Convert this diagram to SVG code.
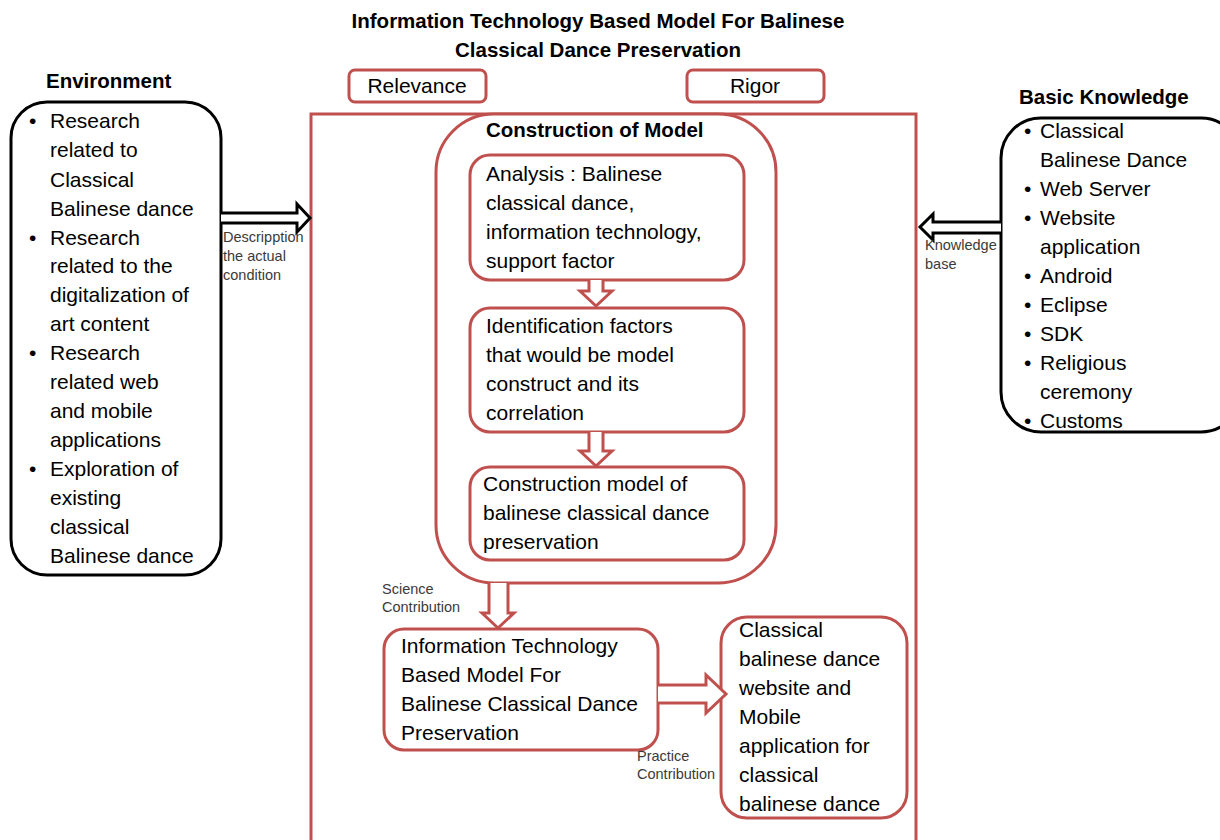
<svg xmlns="http://www.w3.org/2000/svg" width="1220" height="840" viewBox="0 0 1220 840">
<style>
text{font-family:"Liberation Sans",Arial,sans-serif;fill:#000}
.t{font-size:21px}
.h{font-size:20.5px;font-weight:bold}
.s{font-size:14.5px;fill:#3a3a3a}
.r{fill:#fff;stroke:#C0504D;stroke-width:3}
.k{fill:#fff;stroke:#000;stroke-width:3}
.ra{fill:#fff;stroke:#C0504D;stroke-width:3;stroke-linejoin:miter}
.ka{fill:#fff;stroke:#000;stroke-width:3;stroke-linejoin:miter}
</style>
<rect width="1220" height="840" fill="#fff"/>
<g id="title">
<text class="h" x="598" y="28" text-anchor="middle">Information Technology Based Model For Balinese</text>
<text class="h" x="598" y="57" text-anchor="middle">Classical Dance Preservation</text>
</g>
<g id="outer"><rect x="311" y="114" width="605" height="740" fill="none" stroke="#C0504D" stroke-width="3"/></g>
<g id="relevance"><rect class="r" x="349" y="70" width="137" height="32" rx="6"/><text class="t" x="417" y="93" text-anchor="middle">Relevance</text></g>
<g id="rigor"><rect class="r" x="687" y="70" width="137" height="32" rx="6"/><text class="t" x="755" y="93" text-anchor="middle">Rigor</text></g>
<g id="environment">
<text class="h" x="46" y="88" font-size="21px">Environment</text>
<rect class="k" x="11" y="102" width="210" height="473" rx="36"/>
<g class="t">
<text x="29" y="128">•</text><text x="50" y="128">Research</text>
<text x="50" y="157">related to</text>
<text x="50" y="187">Classical</text>
<text x="50" y="216">Balinese dance</text>
<text x="29" y="245">•</text><text x="50" y="245">Research</text>
<text x="50" y="273">related to the</text>
<text x="50" y="302">digitalization of</text>
<text x="50" y="331">art content</text>
<text x="29" y="360">•</text><text x="50" y="360">Research</text>
<text x="50" y="389">related web</text>
<text x="50" y="418">and mobile</text>
<text x="50" y="447">applications</text>
<text x="29" y="476">•</text><text x="50" y="476">Exploration of</text>
<text x="50" y="505">existing</text>
<text x="50" y="534">classical</text>
<text x="50" y="563">Balinese dance</text>
</g>
</g>
<g id="knowledge">
<text class="h" x="1019" y="104">Basic Knowledge</text>
<rect class="k" x="1001" y="118" width="240" height="314" rx="40"/>
<g class="t">
<text x="1024" y="138">•</text><text x="1040" y="138">Classical</text>
<text x="1040" y="167">Balinese Dance</text>
<text x="1024" y="196">•</text><text x="1040" y="196">Web Server</text>
<text x="1024" y="225">•</text><text x="1040" y="225">Website</text>
<text x="1040" y="254">application</text>
<text x="1024" y="283">•</text><text x="1040" y="283">Android</text>
<text x="1024" y="312">•</text><text x="1040" y="312">Eclipse</text>
<text x="1024" y="341">•</text><text x="1040" y="341">SDK</text>
<text x="1024" y="370">•</text><text x="1040" y="370">Religious</text>
<text x="1040" y="399">ceremony</text>
<text x="1024" y="428">•</text><text x="1040" y="428">Customs</text>
</g>
</g>
<g id="construction">
<rect class="r" x="436" y="114" width="340" height="469" rx="58"/>
<text class="h" x="486" y="137" font-size="19.5px">Construction of Model</text>
</g>
<g id="analysis">
<rect class="r" x="470" y="155" width="274" height="125" rx="20"/>
<g class="t"><text x="486" y="181">Analysis : Balinese</text><text x="486" y="210">classical dance,</text><text x="486" y="239">information technology,</text><text x="486" y="268">support factor</text></g>
</g>
<g id="identification">
<rect class="r" x="470" y="308" width="274" height="124" rx="20"/>
<g class="t"><text x="486" y="333">Identification factors</text><text x="486" y="362">that would be model</text><text x="486" y="391">construct and its</text><text x="486" y="420">correlation</text></g>
</g>
<g id="constructionmodel">
<rect class="r" x="470" y="467" width="274" height="93" rx="20"/>
<g class="t"><text x="483" y="491">Construction model of</text><text x="483" y="520">balinese classical dance</text><text x="483" y="549">preservation</text></g>
</g>
<g id="itmodel">
<rect class="r" x="384" y="629" width="274" height="121" rx="20"/>
<g class="t"><text x="401" y="653">Information Technology</text><text x="401" y="682">Based Model For</text><text x="401" y="711">Balinese Classical Dance</text><text x="401" y="740">Preservation</text></g>
</g>
<g id="output">
<rect class="r" x="721" y="617" width="186" height="201" rx="26"/>
<g class="t"><text x="739" y="637">Classical</text><text x="739" y="666">balinese dance</text><text x="739" y="695">website and</text><text x="739" y="724">Mobile</text><text x="739" y="753">application for</text><text x="739" y="782">classical</text><text x="739" y="811">balinese dance</text></g>
</g>
<g id="connectors">
<path class="ka" d="M221,213 H297 V204 L310,218 L297,232 V223 H221"/>
<path class="ka" d="M1001,222 H933 V214 L920,227 L933,240 V233 H1001"/>
<path class="ra" d="M589,280 V291 H580 L596,306 L612,291 H603 V280"/>
<path class="ra" d="M589,432 V451 H580 L596,466 L612,451 H603 V432"/>
<path class="ra" d="M489,583 V613 H482 L498,628 L514,613 H508 V583"/>
<path class="ra" d="M658,685 H706 V675 L726,694 L706,713 V703 H658"/>
<text class="s" x="223" y="242">Descripption</text>
<text class="s" x="223" y="261">the actual</text>
<text class="s" x="223" y="280">condition</text>
<text class="s" x="925" y="250">Knowledge</text>
<text class="s" x="925" y="269">base</text>
<text class="s" x="382" y="594">Science</text>
<text class="s" x="382" y="612">Contribution</text>
<text class="s" x="637" y="761">Practice</text>
<text class="s" x="637" y="779">Contribution</text>
</g>
</svg>
